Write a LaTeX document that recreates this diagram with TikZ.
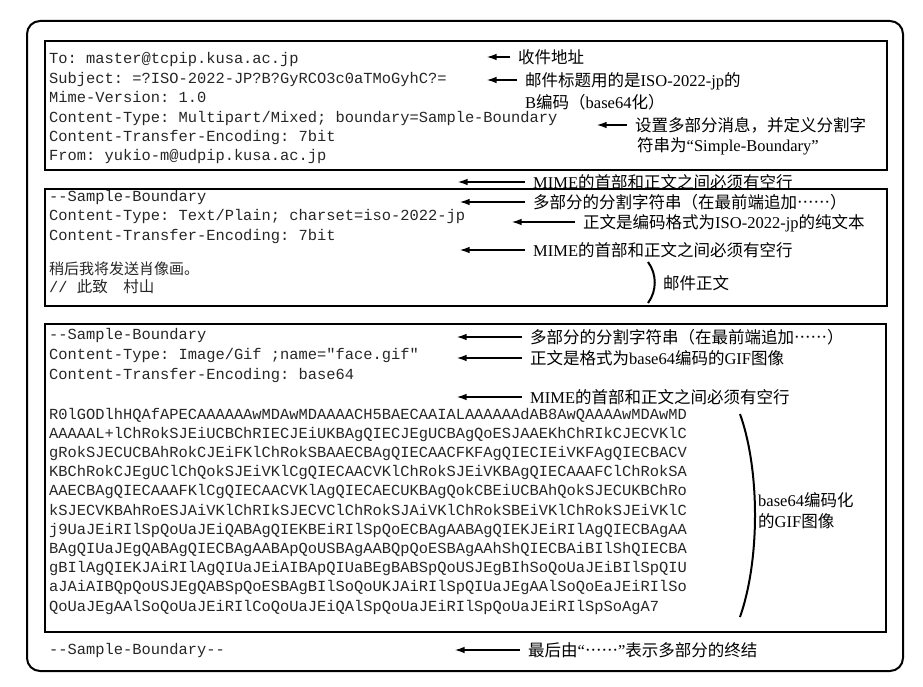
\documentclass[tikz,border=0pt]{standalone}
\usepackage{fontspec}
\setmainfont{Liberation Serif}
\setmonofont{Liberation Mono}
\newfontfamily\cjk{Noto Sans CJK SC}[Script=CJK, Language=Chinese Simplified]
\usetikzlibrary{arrows.meta}
\newcommand\zh[1]{{\cjk #1}}
\tikzset{
  code/.style={font=\fontsize{15.4}{19}\selectfont\ttfamily, anchor=base west, inner sep=0pt,
    text=black!85},
  memo/.style={font=\fontsize{16.5}{19}\selectfont, anchor=west, inner sep=0pt,
    text height=12.5pt, text depth=0pt},
  arr/.style={-{Latex[length=9.5pt,width=6.5pt]}, line width=1.1pt, shorten <=8pt},
  frame/.style={line width=1.7pt},
}
\begin{document}
\begin{tikzpicture}[x=1pt,y=-1pt]
  \useasboundingbox (0,0) rectangle (923,687);
  \draw[line width=2pt, rounded corners=13pt] (27,21) rectangle (903,671);
  \draw[frame] (45,41) rectangle (887,170);
  \draw[frame] (45,189) rectangle (887,306);
  \draw[frame] (45,324) rectangle (886,632);

  % header of the mail
  \foreach \txt [count=\i] in {To: master@tcpip.kusa.ac.jp,
    Subject: =?ISO-2022-JP?B?GyRCO3c0aTMoGyhC?=,
    Mime-Version: 1.0,
    Content-Type: Multipart/Mixed; boundary=Sample-Boundary,
    Content-Transfer-Encoding: 7bit,
    From: yukio-m@udpip.kusa.ac.jp}{
    \node[code] (h\i) at (49,{64+19.4*(\i-1)}) {\txt};
  }

  % text part
  \foreach \txt [count=\i] in {--Sample-Boundary,
    Content-Type: Text/Plain; charset=iso-2022-jp,
    Content-Transfer-Encoding: 7bit}{
    \node[code] (p\i) at (49,{201+19.5*(\i-1)}) {\txt};
  }
  \node[code, font=\fontsize{15}{19}\selectfont\cjk] (body1) at (49,274) {稍后我将发送肖像画。};
  \node[code] (body2) at (49,292) {//\ \zh{\fontsize{15.5}{19}\selectfont 此致　村山}};

  % image part
  \foreach \txt [count=\i] in {--Sample-Boundary,
    Content-Type: Image/Gif ;name="face.gif",
    Content-Transfer-Encoding: base64}{
    \node[code] (g\i) at (49,{339+20*(\i-1)}) {\txt};
  }
  \foreach \txt [count=\i] in {R0lGODlhHQAfAPECAAAAAAwMDAwMDAAAACH5BAECAAIALAAAAAAdAB8AwQAAAAwMDAwMD,
    AAAAAL+lChRokSJEiUCBChRIECJEiUKBAgQIECJEgUCBAgQoESJAAEKhChRIkCJECVKlC,
    gRokSJECUCBAhRokCJEiFKlChRokSBAAECBAgQIECAACFKFAgQIECIEiVKFAgQIECBACV,
    KBChRokCJEgUClChQokSJEiVKlCgQIECAACVKlChRokSJEiVKBAgQIECAAAFClChRokSA,
    AAECBAgQIECAAAFKlCgQIECAACVKlAgQIECAECUKBAgQokCBEiUCBAhQokSJECUKBChRo,
    kSJECVKBAhRoESJAiVKlChRIkSJECVClChRokSJAiVKlChRokSBEiVKlChRokSJEiVKlC,
    j9UaJEiRIlSpQoUaJEiQABAgQIEKBEiRIlSpQoECBAgAABAgQIEKJEiRIlAgQIECBAgAA,
    BAgQIUaJEgQABAgQIECBAgAABApQoUSBAgAABQpQoESBAgAAhShQIECBAiBIlShQIECBA,
    gBIlAgQIEKJAiRIlAgQIUaJEiAIBApQIUaBEgBABSpQoUSJEgBIhSoQoUaJEiBIlSpQIU,
    aJAiAIBQpQoUSJEgQABSpQoESBAgBIlSoQoUKJAiRIlSpQIUaJEgAAlSoQoEaJEiRIlSo,
    QoUaJEgAAlSoQoUaJEiRIlCoQoUaJEiQAlSpQoUaJEiRIlSpQoUaJEiRIlSpSoAgA7}{
    \node[code] (b\i) at (49,{419+19.2*(\i-1)}) {\txt};
  }
  \node[code] (end) at (49,654) {--Sample-Boundary--};

  % notes
  \node[memo] (n1) at (518,57) {\zh{收件地址}};
  \node[memo] (n2) at (525,80) {\zh{邮件标题用的是}ISO-2022-jp\zh{的}};
  \node[memo] (n2b) at (525,102) {B\zh{编码（}base64\zh{化）}};
  \node[memo] (n3) at (635,125) {\zh{设置多部分消息，并定义分割字}};
  \node[memo] (n3b) at (637,145) {\zh{符串为}“Simple-Boundary”};
  \node[memo] (n4) at (533,182) {MIME\zh{的首部和正文之间必须有空行}};
  \node[memo] (n5) at (533,202) {\zh{多部分的分割字符串（在最前端追加⋯⋯）}};
  \node[memo] (n6) at (583,222) {\zh{正文是编码格式为}ISO-2022-jp\zh{的纯文本}};
  \node[memo] (n7) at (533,250) {MIME\zh{的首部和正文之间必须有空行}};
  \node[memo] (n8) at (663,283) {\zh{邮件正文}};
  \node[memo] (n9) at (530,337) {\zh{多部分的分割字符串（在最前端追加⋯⋯）}};
  \node[memo] (n10) at (530,358) {\zh{正文是格式为}base64\zh{编码的}GIF\zh{图像}};
  \node[memo] (n11) at (530,397) {MIME\zh{的首部和正文之间必须有空行}};
  \node[memo] (n12) at (758,500) {base64\zh{编码化}};
  \node[memo] (n12b) at (758,521) {\zh{的}GIF\zh{图像}};
  \node[memo] (n13) at (528,650) {\zh{最后由}“\zh{⋯⋯}”\zh{表示多部分的终结}};

  \coordinate (t1) at (487,57);
  \coordinate (t2) at (487,80);
  \coordinate (t3) at (597,125);
  \coordinate (t4) at (458,182);
  \coordinate (t5) at (460,202);
  \coordinate (t6) at (512,222);
  \coordinate (t7) at (460,250);
  \coordinate (t9) at (457,337);
  \coordinate (t10) at (457,358);
  \coordinate (t11) at (457,397);
  \coordinate (t13) at (455,650);
  \foreach \n/\t in {n1/t1, n2/t2, n3/t3, n4/t4, n5/t5, n6/t6, n7/t7,
    n9/t9, n10/t10, n11/t11, n13/t13}{
    \draw[arr] (\n.west) -- (\t);
  }

  % braces
  \draw[line width=2pt] (648,262) .. controls (657,274) and (657,291) .. (648,303);
  \draw[line width=2pt] (740,414) .. controls (760,470) and (760,560) .. (740,617);
\end{tikzpicture}
\end{document}
